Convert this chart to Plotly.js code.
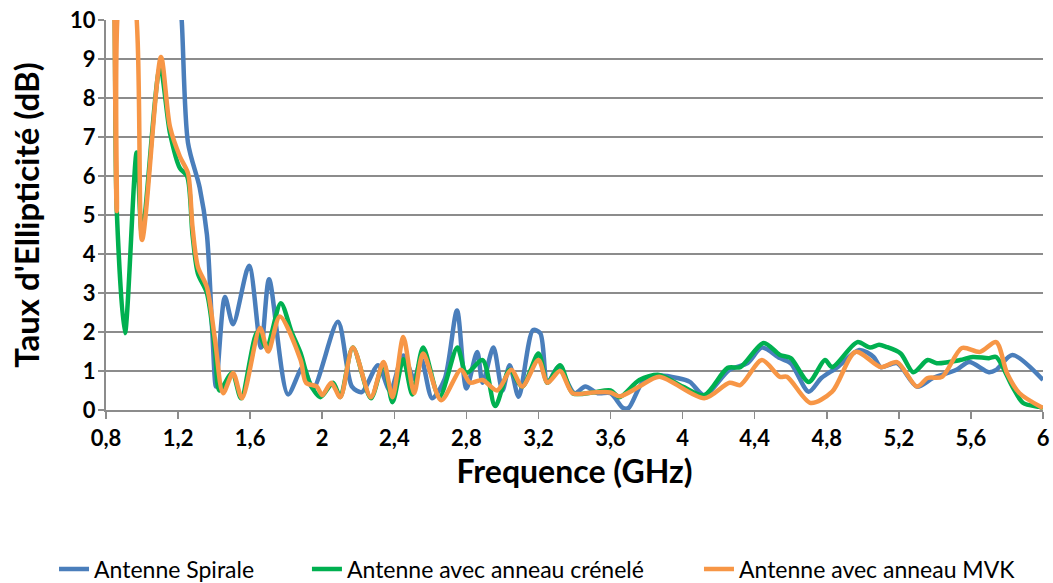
<!DOCTYPE html>
<html>
<head>
<meta charset="utf-8">
<script src="https://cdn.plot.ly/plotly-3.0.1.min.js"></script>
<style>html,body{margin:0;padding:0;background:#fff;}#chart{width:1053px;height:583px;}</style>
</head>
<body>
<div id="chart"></div>
<script>
const seriesNames = ["Antenne Spirale", "Antenne avec anneau crénelé", "Antenne avec anneau MVK"];

const spiraleX = [0.8,0.95,1.1,1.2,1.22,1.255,1.32,1.36,1.39,1.41,1.46,1.505,1.594,1.66,1.705,1.81,1.893,1.949,2.087,2.165,2.22,2.31,2.376,2.45,2.51,2.55,2.61,2.68,2.748,2.80,2.86,2.89,2.95,3.0,3.04,3.09,3.17,3.21,3.25,3.31,3.40,3.46,3.53,3.6,3.67,3.70,3.78,3.87,3.97,4.04,4.12,4.26,4.36,4.44,4.54,4.6,4.70,4.77,4.86,4.98,5.06,5.1,5.19,5.30,5.39,5.52,5.59,5.70,5.74,5.83,6.0];
const spiraleY = [12,13,12,11,10,6.85,5.7,4.5,2.0,0.6,2.9,2.2,3.7,1.6,3.35,0.4,1.1,0.55,2.26,0.6,0.46,1.15,0.5,1.4,0.8,1.3,0.3,0.8,2.55,0.55,1.49,0.7,1.6,0.5,1.15,0.34,2.05,1.97,0.7,1.1,0.43,0.6,0.43,0.43,0.05,0.05,0.72,0.88,0.82,0.72,0.38,1.03,1.2,1.6,1.33,1.2,0.47,0.82,1.1,1.54,1.36,1.1,1.2,0.6,0.82,1.03,1.23,0.97,1.03,1.41,0.77];

const creneleX = [0.8,0.84,0.86,0.905,0.97,1.0,1.1,1.155,1.21,1.25,1.28,1.31,1.36,1.405,1.43,1.5,1.55,1.64,1.69,1.77,1.83,1.88,1.93,1.99,2.06,2.1,2.17,2.27,2.34,2.39,2.45,2.5,2.56,2.65,2.75,2.8,2.89,2.96,3.04,3.11,3.2,3.25,3.32,3.39,3.5,3.6,3.65,3.76,3.87,4.0,4.12,4.25,4.32,4.45,4.54,4.6,4.70,4.79,4.83,4.97,5.04,5.09,5.13,5.21,5.28,5.36,5.41,5.54,5.61,5.70,5.74,5.83,5.89,5.98,6.0];
const creneleY = [14,12,5.1,1.97,6.6,4.5,8.8,7.1,6.2,6.0,4.5,3.5,3.0,1.54,0.5,0.95,0.3,2.0,1.6,2.74,2.0,1.46,0.7,0.33,0.7,0.33,1.6,0.3,1.2,0.2,1.3,0.4,1.6,0.33,1.6,0.95,1.28,0.1,1.03,0.6,1.45,0.7,1.15,0.43,0.45,0.5,0.33,0.77,0.9,0.6,0.38,1.08,1.1,1.72,1.41,1.33,0.72,1.28,1.1,1.74,1.6,1.67,1.62,1.45,0.97,1.28,1.2,1.28,1.36,1.33,1.36,0.6,0.18,0.08,0.05];

const mvkX = [0.8,0.84,0.86,0.89,0.94,1.0,1.105,1.155,1.21,1.255,1.28,1.31,1.36,1.405,1.45,1.505,1.555,1.655,1.70,1.765,1.88,1.91,1.97,2.0,2.05,2.1,2.17,2.27,2.34,2.39,2.45,2.51,2.56,2.66,2.77,2.82,2.89,2.97,3.05,3.11,3.2,3.25,3.32,3.39,3.5,3.6,3.65,3.76,3.87,4.12,4.26,4.32,4.44,4.54,4.58,4.71,4.83,4.96,5.1,5.19,5.30,5.36,5.44,5.55,5.65,5.74,5.8,5.87,6.0];
const mvkY = [16,12,5.1,11,11,4.36,9.05,7.26,6.5,6.07,4.7,3.67,3.15,1.8,0.43,0.95,0.3,2.1,1.5,2.4,1.28,0.7,0.6,0.38,0.7,0.33,1.6,0.33,1.23,0.33,1.87,0.43,1.45,0.25,1.03,0.7,0.77,0.5,1.03,0.6,1.28,0.7,1.0,0.43,0.45,0.45,0.35,0.6,0.85,0.3,0.7,0.64,1.28,0.85,0.85,0.18,0.47,1.49,1.1,1.23,0.6,0.82,0.85,1.59,1.49,1.74,0.95,0.43,0.05];

const xTickVals = [0.8,1.2,1.6,2,2.4,2.8,3.2,3.6,4,4.4,4.8,5.2,5.6,6];
const xTickLabels = ["0,8","1,2","1,6","2","2,4","2,8","3,2","3,6","4","4,4","4,8","5,2","5,6","6"];
const yTickVals = [0,1,2,3,4,5,6,7,8,9,10];

const colors = ["#4a7ebb", "#00b050", "#f79646"];
const legendIds = ["legend", "legend2", "legend3"];
const font = "Lato, 'Open Sans', 'Liberation Sans', Arial, sans-serif";

const mk = (x, y, i) => ({
  x: x, y: y, name: seriesNames[i], type: "scatter", mode: "lines",
  legend: legendIds[i],
  line: {color: colors[i], width: 4.5, shape: "spline", smoothing: 0.8}
});

const data = [mk(spiraleX, spiraleY, 0), mk(creneleX, creneleY, 1), mk(mvkX, mvkY, 2)];

const legFont = {size: 23, family: font, weight: "normal", color: "#000"};
const legBase = {orientation: "h", xref: "container", yref: "container", xanchor: "left", yanchor: "middle", y: 0.024, font: legFont, bgcolor: "rgba(0,0,0,0)"};

const layout = {
  width: 1053, height: 583,
  margin: {l: 106, r: 10, t: 20, b: 173, autoexpand: false},
  paper_bgcolor: "#fff", plot_bgcolor: "#fff",
  showlegend: true,
  font: {family: font, color: "#000"},
  xaxis: {
    range: [0.8, 6], tickvals: xTickVals, ticktext: xTickLabels,
    showgrid: false, zeroline: false, showline: true, linecolor: "#8c8c8c", linewidth: 2,
    ticks: "outside", ticklen: 7, tickcolor: "#8c8c8c", tickwidth: 1.5,
    ticklabelstandoff: 1,
    tickfont: {size: 22, family: font, weight: "bold", color: "#000"},
    title: {text: "Frequence (GHz)", font: {size: 32, family: font, weight: "bold", color: "#000"}, standoff: 0}
  },
  yaxis: {
    range: [0, 10], tickvals: yTickVals,
    showgrid: true, gridcolor: "#8c8c8c", gridwidth: 2, zeroline: false,
    showline: true, linecolor: "#8c8c8c", linewidth: 2,
    ticks: "outside", ticklen: 6, tickcolor: "#8c8c8c", tickwidth: 1.5,
    ticklabelstandoff: -2,
    tickfont: {size: 22, family: font, weight: "bold", color: "#000"},
    title: {text: "Taux d'Ellipticité (dB)", font: {size: 33, family: font, weight: "bold", color: "#000"}, standoff: 21}
  },
  legend: Object.assign({}, legBase, {x: 0.0513}),
  legend2: Object.assign({}, legBase, {x: 0.2915}),
  legend3: Object.assign({}, legBase, {x: 0.6638})
};

Plotly.newPlot("chart", data, layout, {displayModeBar: false, staticPlot: true});
</script>
</body>
</html>
